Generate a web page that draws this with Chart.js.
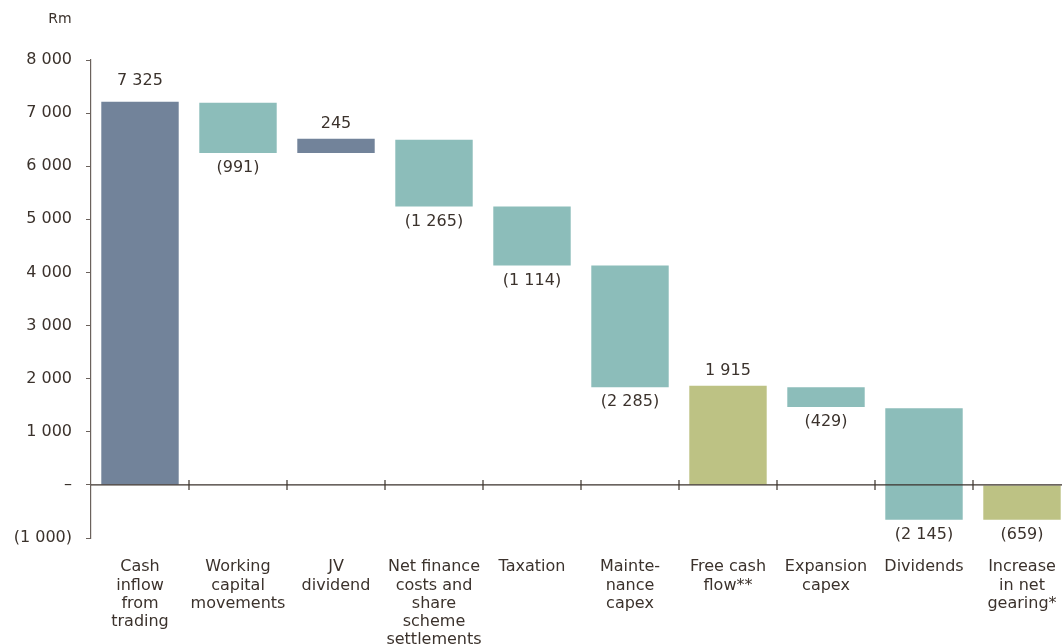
<!DOCTYPE html>
<html lang="en">
<head>
    <meta charset="UTF-8">
    <title>Cash flow waterfall</title>
    <style>
        body {
            margin: 0;
            padding: 0;
            background: #ffffff;
            overflow: hidden;
        }

        .container {
            width: 1062px;
            height: 644px;
            overflow: hidden;
        }
    </style>
</head>
<body>
    <div class="container">
        <canvas id="myChart" width="1071" height="644"></canvas>
    </div>

    <script src="https://cdn.jsdelivr.net/npm/chart.js"></script>
    <script>
        // categories and bar extents (Rm)
        var categories = [
            ['Cash', 'inflow', 'from', 'trading'],
            ['Working', 'capital', 'movements'],
            ['JV', 'dividend'],
            ['Net finance', 'costs and', 'share', 'scheme', 'settlements'],
            ['Taxation'],
            ['Mainte-', 'nance', 'capex'],
            ['Free cash', 'flow**'],
            ['Expansion', 'capex'],
            ['Dividends'],
            ['Increase', 'in net', 'gearing*']
        ];
        var barLow  = [0,    6250, 6250, 5240, 4130, 1840, 0,    1465, -657, -657];
        var barHigh = [7215, 7195, 6515, 6500, 5240, 4130, 1865, 1840, 1445, 0];
        var valueLabels = ['7 325', '(991)', '245', '(1 265)', '(1 114)', '(2 285)', '1 915', '(429)', '(2 145)', '(659)'];
        var barKinds = ['in', 'out', 'in', 'out', 'out', 'out', 'total', 'out', 'out', 'total'];
        var yTickValues = [-1000, 0, 1000, 2000, 3000, 4000, 5000, 6000, 7000, 8000];
        var yTickLabels = ['(1 000)', '–', '1 000', '2 000', '3 000', '4 000', '5 000', '6 000', '7 000', '8 000'];

        var kindColors = { 'in': '#72839a', 'out': '#8cbdba', 'total': '#bdc284' };
        var textColor = '#3b322c';
        var axisColor = '#6b625c';
        var fontFamily = '"DejaVu Sans", sans-serif';

        var floatData = barLow.map(function (lo, i) { return [lo, barHigh[i]]; });

        var extras = {
            id: 'extras',
            afterDatasetsDraw: function (chart) {
                var ctx = chart.ctx;
                var x = chart.scales.x;
                var y = chart.scales.y;
                var meta = chart.getDatasetMeta(0);
                ctx.save();

                // zero line with category boundary ticks
                var y0 = y.getPixelForValue(0);
                ctx.strokeStyle = textColor;
                ctx.lineWidth = 1.2;
                ctx.beginPath();
                ctx.moveTo(chart.chartArea.left, y0);
                ctx.lineTo(chart.chartArea.right, y0);
                for (var i = 1; i < categories.length; i++) {
                    var bx = (x.getPixelForValue(i - 1) + x.getPixelForValue(i)) / 2;
                    ctx.moveTo(bx, y0 - 5);
                    ctx.lineTo(bx, y0 + 5);
                }
                ctx.stroke();

                // value labels
                ctx.fillStyle = textColor;
                ctx.font = '16px ' + fontFamily;
                ctx.textAlign = 'center';
                ctx.textBaseline = 'middle';
                meta.data.forEach(function (bar, i) {
                    var label = valueLabels[i];
                    var top = Math.min(bar.y, bar.base);
                    var bottom = Math.max(bar.y, bar.base);
                    if (label.charAt(0) === '(') {
                        ctx.fillText(label, bar.x, bottom + 15);
                    } else {
                        ctx.fillText(label, bar.x, top - (i === 0 ? 21 : 15));
                    }
                });

                // unit
                ctx.font = '14px ' + fontFamily;
                ctx.fillText('Rm', 60, 19);
                ctx.restore();
            }
        };

        var ctx = document.getElementById('myChart').getContext('2d');
        var myChart = new Chart(ctx, {
            type: 'bar',
            data: {
                labels: categories,
                datasets: [{
                    data: floatData,
                    backgroundColor: barKinds.map(function (k) { return kindColors[k]; }),
                    borderWidth: 0,
                    barPercentage: 0.79,
                    categoryPercentage: 1
                }]
            },
            options: {
                responsive: false,
                animation: false,
                layout: {
                    padding: { top: 60, right: 0, left: 0, bottom: 0 }
                },
                plugins: {
                    legend: { display: false },
                    tooltip: { enabled: false }
                },
                scales: {
                    x: {
                        grid: { display: false, drawTicks: false },
                        border: { display: false },
                        ticks: {
                            color: textColor,
                            font: { family: fontFamily, size: 16, lineHeight: 1.14 },
                            padding: 20,
                            maxRotation: 0,
                            autoSkip: false
                        },
                        afterFit: function (scale) {
                            scale.height = 106;
                            scale.paddingLeft = 0;
                            scale.paddingRight = 0;
                        }
                    },
                    y: {
                        min: -1000,
                        max: 8000,
                        afterBuildTicks: function (scale) {
                            scale.ticks = yTickValues.map(function (v) { return { value: v }; });
                        },
                        afterFit: function (scale) { scale.width = 91; },
                        grid: {
                            drawOnChartArea: false,
                            tickLength: 5,
                            tickColor: axisColor
                        },
                        border: { display: true, color: axisColor, width: 1.2 },
                        ticks: {
                            color: textColor,
                            font: { family: fontFamily, size: 16 },
                            padding: 14,
                            callback: function (value) {
                                var idx = yTickValues.indexOf(value);
                                return idx >= 0 ? yTickLabels[idx] : '';
                            }
                        }
                    }
                }
            },
            plugins: [extras]
        });
    </script>
</body>
</html>
